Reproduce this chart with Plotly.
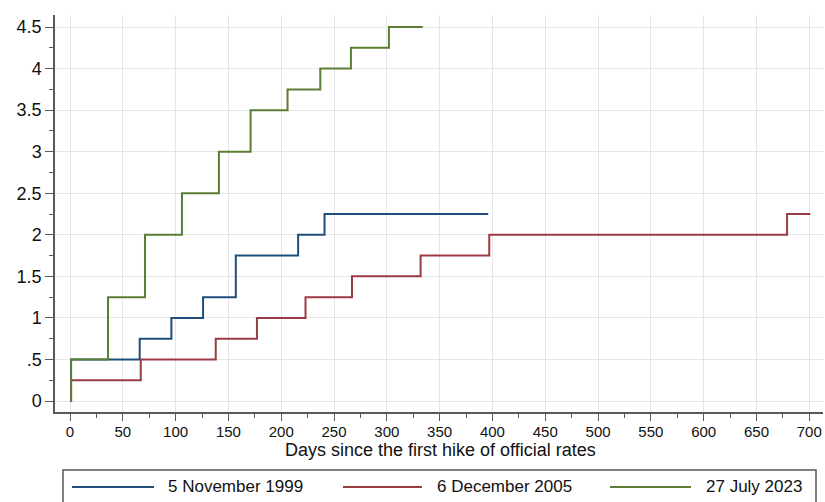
import plotly.graph_objects as go

# ---- data ----
names = ["5 November 1999", "6 December 2005", "27 July 2023"]
colors = ["#1f4e7a", "#9a3a42", "#5b7d36"]

days_1999 = [0, 1, 66, 96, 126, 157, 216, 241, 396]
rate_1999 = [0, 0.5, 0.75, 1.0, 1.25, 1.75, 2.0, 2.25, 2.25]

days_2005 = [0, 1, 67, 138, 177, 223, 267, 332, 397, 679, 701]
rate_2005 = [0, 0.25, 0.5, 0.75, 1.0, 1.25, 1.5, 1.75, 2.0, 2.25, 2.25]

days_2023 = [0, 1, 36, 71, 106, 141, 171, 206, 237, 266, 302, 334]
rate_2023 = [0, 0.5, 1.25, 2.0, 2.5, 3.0, 3.5, 3.75, 4.0, 4.25, 4.5, 4.5]

x_ticks = list(range(0, 701, 50))
y_ticks = [0, 0.5, 1, 1.5, 2, 2.5, 3, 3.5, 4, 4.5]
y_labels = ["0", ".5", "1", "1.5", "2", "2.5", "3", "3.5", "4", "4.5"]
x_title = "Days since the first hike of official rates"

W, H = 825, 502
# plot area in page pixels: x 55..823, y 15..412
L = 55
T = 15
R = W - 823
B = H - 412
FONT = "Liberation Sans, Arial, Helvetica, sans-serif"

fig = go.Figure()
for d, r, n, c in zip([days_1999, days_2005, days_2023],
                      [rate_1999, rate_2005, rate_2023], names, colors):
    fig.add_trace(go.Scatter(x=d, y=r, mode="lines", name=n,
                             line=dict(color=c, width=2, shape="hv"),
                             showlegend=False))

axis_col = "#5a5a5a"
fig.update_layout(
    width=W, height=H,
    margin=dict(l=L, r=R, t=T, b=B),
    paper_bgcolor="white", plot_bgcolor="white",
    font=dict(family=FONT, color="#111111"),
    xaxis=dict(range=[-14.2, 713], tickvals=x_ticks,
               ticks="outside", ticklen=7, tickcolor=axis_col, tickwidth=1.2,
               showline=True, linecolor=axis_col, linewidth=1.5,
               showgrid=True, gridcolor="#e6e6e6", gridwidth=1,
               zeroline=False, tickfont=dict(size=15), ticklabelstandoff=-2,
               ticklabeloverflow="allow",
               minor=dict(dtick=25, tick0=0, ticks="outside", ticklen=4,
                          tickcolor=axis_col, showgrid=False)),
    yaxis=dict(range=[-0.132, 4.645], tickvals=y_ticks, ticktext=y_labels,
               ticks="outside", ticklen=8, tickcolor=axis_col, tickwidth=1.2,
               showline=True, linecolor=axis_col, linewidth=1.5,
               showgrid=True, gridcolor="#e6e6e6", gridwidth=1,
               zeroline=False, tickfont=dict(size=18),
               minor=dict(dtick=0.25, tick0=0, ticks="outside", ticklen=4,
                          tickcolor=axis_col, showgrid=False)),
)

# ---- pixel -> paper helpers ----
pw = W - L - R
ph = H - T - B
def px(x):
    return (x - L) / pw
def py(y):
    return (H - B - y) / ph

# x-axis title
fig.add_annotation(xref="paper", yref="paper", x=px(440), y=py(450),
                   text=x_title, showarrow=False, xanchor="center",
                   yanchor="middle", font=dict(size=18, family=FONT, color="#111111"))

# ---- custom legend ----
fig.add_shape(type="rect", xref="paper", yref="paper",
              x0=px(63), x1=px(816), y0=py(470), y1=py(530),
              line=dict(color="#555555", width=1.5), fillcolor="rgba(0,0,0,0)")

line_x = [(72, 154), (343, 422), (610, 691)]
text_x = [166, 435, 704]
ly = 487
for (a, b), tx, n, c in zip(line_x, text_x, names, colors):
    fig.add_shape(type="line", xref="paper", yref="paper",
                  x0=px(a), x1=px(b), y0=py(ly), y1=py(ly),
                  line=dict(color=c, width=2))
    fig.add_annotation(xref="paper", yref="paper", x=px(tx), y=py(ly),
                       text=n, showarrow=False, xanchor="left", yanchor="middle",
                       font=dict(size=17, family=FONT, color="#111111"))

fig.write_html(
    "out.html",
    config={"displayModeBar": False},
    post_script="document.body.style.margin='0';document.body.style.overflow='hidden';",
)
